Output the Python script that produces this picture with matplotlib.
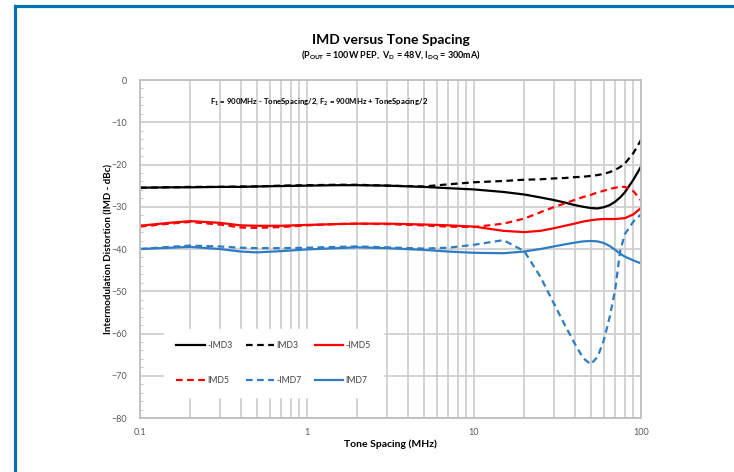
import matplotlib.pyplot as plt
from matplotlib.lines import Line2D
from matplotlib.ticker import LogLocator, MultipleLocator, NullFormatter, FixedLocator

plt.rcParams['font.family'] = ['Lato', 'DejaVu Sans']
plt.rcParams['mathtext.fontset'] = 'custom'
plt.rcParams['mathtext.rm'] = 'Lato'
plt.rcParams['mathtext.bf'] = 'Lato:bold'

# tone spacing (MHz)
freq = [0.1, 0.15, 0.2, 0.3, 0.4, 0.5, 0.7, 1, 1.5, 2, 3, 5, 7, 10, 15, 20, 25,
        30, 35, 40, 45, 50, 55, 60, 65, 70, 75, 80, 90, 100]

neg_imd3 = [-25.5, -25.4, -25.4, -25.3, -25.3, -25.2, -25.1, -25.0, -24.9, -24.9,
            -25.0, -25.3, -25.6, -25.9, -26.5, -27.1, -27.8, -28.4, -29.0, -29.6,
            -30.0, -30.3, -30.4, -30.1, -29.6, -28.8, -27.8, -26.6, -23.6, -20.5]
pos_imd3 = [-25.5, -25.4, -25.3, -25.3, -25.2, -25.2, -25.0, -24.9, -24.8, -24.8,
            -25.0, -25.2, -24.7, -24.2, -23.9, -23.6, -23.5, -23.3, -23.2, -23.0,
            -22.9, -22.7, -22.5, -22.2, -21.8, -21.3, -20.6, -19.8, -17.3, -14.2]
neg_imd5 = [-34.5, -33.8, -33.4, -33.8, -34.4, -34.5, -34.5, -34.3, -34.1, -34.0,
            -34.0, -34.2, -34.4, -34.7, -35.7, -36.0, -35.7, -35.1, -34.5, -34.0,
            -33.5, -33.2, -33.0, -32.9, -32.9, -32.9, -32.8, -32.7, -31.8, -30.3]
pos_imd5 = [-34.7, -34.0, -33.6, -34.2, -34.9, -35.0, -34.8, -34.4, -34.1, -34.0,
            -34.1, -34.4, -34.7, -34.8, -34.0, -32.8, -31.3, -30.1, -29.2, -28.4,
            -27.7, -27.2, -26.6, -26.2, -25.8, -25.5, -25.3, -25.3, -26.3, -28.5]
neg_imd7 = [-40.0, -39.5, -39.2, -39.4, -39.7, -39.8, -39.8, -39.7, -39.5, -39.4,
            -39.6, -39.9, -39.7, -39.0, -37.9, -40.5, -46.6, -52.8, -58.0, -62.3,
            -65.8, -67.3, -65.5, -61.5, -56.0, -49.7, -40.5, -36.5, -33.5, -31.8]
pos_imd7 = [-40.0, -39.7, -39.5, -40.0, -40.6, -40.8, -40.5, -40.1, -39.8, -39.6,
            -39.8, -40.2, -40.6, -40.9, -41.0, -40.6, -40.0, -39.4, -38.9, -38.5,
            -38.2, -38.1, -38.2, -38.6, -39.3, -40.2, -41.1, -41.8, -42.7, -43.4]

series = [
    ("-IMD3", neg_imd3, "black", "-"),
    ("IMD3", pos_imd3, "black", "--"),
    ("-IMD5", neg_imd5, "#ff0000", "-"),
    ("IMD5", pos_imd5, "#ff0000", "--"),
    ("-IMD7", neg_imd7, "#2e7cc4", "--"),
    ("IMD7", pos_imd7, "#2e7cc4", "-"),
]

fig = plt.figure(figsize=(7.34, 4.72), dpi=100)
ax = fig.add_axes([0.1907, 0.1144, 0.6826, 0.7161])

handles = []
for label, vals, color, ls in series:
    h, = ax.plot(freq, vals, color=color, linestyle=ls, linewidth=1.6,
                 dashes=(3, 2) if ls == "--" else (None, None), label=label)
    handles.append(h)

ax.set_xscale("log")
ax.set_xlim(0.1, 100)
ax.set_ylim(-80, 0)
ax.yaxis.set_major_locator(MultipleLocator(10))
ax.yaxis.set_minor_locator(MultipleLocator(2))
ax.xaxis.set_major_locator(FixedLocator([0.1, 1, 10, 100]))
ax.xaxis.set_major_formatter(plt.FuncFormatter(lambda v, p: f"{v:g}"))
ax.xaxis.set_minor_locator(LogLocator(base=10, subs=range(2, 10)))
ax.xaxis.set_minor_formatter(NullFormatter())

ax.grid(True, which="major", axis="y", color="#d0d0d0", linewidth=1.3)
ax.grid(True, which="both", axis="x", color="#d0d0d0", linewidth=1.3)
ax.set_axisbelow(True)

for s in ax.spines.values():
    s.set_color("#bfbfbf")
    s.set_linewidth(1.3)

ax.tick_params(axis="both", which="major", length=0, labelsize=6.5,
               labelcolor="#595959")
ax.tick_params(axis="y", which="major", pad=9)
ax.tick_params(axis="x", which="major", pad=7)
ax.tick_params(axis="x", which="minor", length=0)
ax.tick_params(axis="y", which="minor", length=2.5, direction="in",
               color="#bfbfbf")

ax.set_xlabel("Tone Spacing (MHz)", fontsize=7.5, fontweight="bold", labelpad=2)
ax.set_ylabel("Intermodulation Distortion (IMD - dBc)", fontsize=7,
              fontweight="bold", labelpad=-1)

ax.text(0.14, 0.935,
        r"F$_\mathbf{1}$ = 900MHz - ToneSpacing/2, F$_\mathbf{2}$ = 900MHz + ToneSpacing/2",
        transform=ax.transAxes, fontsize=5.6, fontweight="bold", va="center")

# legend entries arranged row-wise in 3 columns
order = [0, 3, 1, 4, 2, 5]
leg = ax.legend([handles[i] for i in order], [series[i][0] for i in order],
                ncol=3, loc="lower left", bbox_to_anchor=(0.04, 0.05),
                fontsize=6.2, frameon=True, facecolor="white", edgecolor="white",
                framealpha=1, handlelength=3.3, handletextpad=0.3,
                columnspacing=1.5, labelspacing=3.0, borderpad=1.4,
                fancybox=False)
for t in leg.get_texts():
    t.set_color("#404040")

fig.text(0.532, 0.915, "IMD versus Tone Spacing", ha="center", va="center",
         fontsize=10, fontweight="bold")
fig.text(0.532, 0.882,
         r"(P$_\mathbf{OUT}$ = 100W PEP,  V$_\mathbf{D}$ = 48V, I$_\mathbf{DQ}$ = 300mA)",
         ha="center", va="center", fontsize=6.5, fontweight="bold")

# blue frame around the picture
border = "#0070b0"
fig.add_artist(Line2D([14.5 / 734, 14.5 / 734], [0, 1 - 5.5 / 472],
                      transform=fig.transFigure, color=border, linewidth=2.3,
                      solid_capstyle="projecting"))
fig.add_artist(Line2D([13.5 / 734, 1], [1 - 5.5 / 472, 1 - 5.5 / 472],
                      transform=fig.transFigure, color=border, linewidth=2.3,
                      solid_capstyle="butt"))

fig.savefig("out.png", dpi=100)
plt.close(fig)
